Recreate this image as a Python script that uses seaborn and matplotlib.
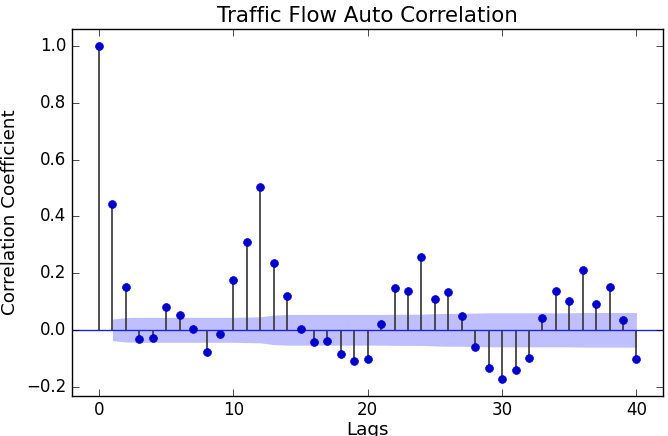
import numpy as np
import pandas as pd
import matplotlib
matplotlib.use('Agg')
import matplotlib.pyplot as plt
import seaborn as sns

# Autocorrelation values, lags 0..40
lags = list(range(41))
acf_values = [1.0, 0.443, 0.152, -0.033, -0.028, 0.081, 0.052, 0.004, -0.078, -0.015,
              0.174, 0.311, 0.505, 0.236, 0.120, 0.004, -0.042, -0.040, -0.087, -0.111,
              -0.104, 0.022, 0.148, 0.136, 0.255, 0.107, 0.133, 0.048, -0.059, -0.136,
              -0.173, -0.142, -0.098, 0.041, 0.136, 0.101, 0.211, 0.091, 0.152, 0.036,
              -0.104]

# Confidence band half-width for lags 1..40
band_lags = list(range(1, 41))
band_width = [0.038, 0.043, 0.044, 0.044, 0.044, 0.044, 0.044, 0.044, 0.044, 0.044,
              0.045, 0.046, 0.052, 0.054, 0.054, 0.054, 0.054, 0.054, 0.054, 0.054,
              0.054, 0.055, 0.055, 0.055, 0.057, 0.058, 0.058, 0.059, 0.060, 0.060,
              0.060, 0.060, 0.060, 0.060, 0.060, 0.061, 0.061, 0.061, 0.061, 0.061]

df = pd.DataFrame({'Lag': lags, 'ACF': acf_values})

plt.style.use('classic')
plt.rcParams['font.family'] = ['DejaVu Sans']

fig = plt.figure(figsize=(6.68, 4.36), dpi=100, facecolor='white')
ax = fig.add_axes([0.108, 0.092, 0.885, 0.841])

# Confidence band
bw = np.array(band_width)
ax.fill_between(band_lags, -bw, bw, color='#0000ff', alpha=0.25, linewidth=0)

# Stems and zero line
ax.vlines(df['Lag'], 0, df['ACF'], color='#333333', linewidth=1.2)
ax.axhline(0, color='#2222cc', linewidth=1.0)

# Markers
sns.scatterplot(data=df, x='Lag', y='ACF', ax=ax, color='#0000cc', s=32,
                edgecolor='#0000cc', linewidth=0.5, zorder=3)

ax.set_xlim(-2, 42)
ax.set_ylim(-0.233, 1.06)
ax.set_xticks([0, 10, 20, 30, 40])
ax.set_yticks([-0.2, 0.0, 0.2, 0.4, 0.6, 0.8, 1.0])
ax.set_yticklabels(['\u22120.2', '0.0', '0.2', '0.4', '0.6', '0.8', '1.0'])
ax.tick_params(labelsize=12, direction='in', top=True, right=True, length=5)
ax.set_title('Traffic Flow Auto Correlation', fontsize=15.4)
ax.set_xlabel('Lags', fontsize=13.2, labelpad=1)
ax.set_ylabel('Correlation Coefficient', fontsize=13.2)

fig.savefig('out.png', dpi=100, facecolor='white')
